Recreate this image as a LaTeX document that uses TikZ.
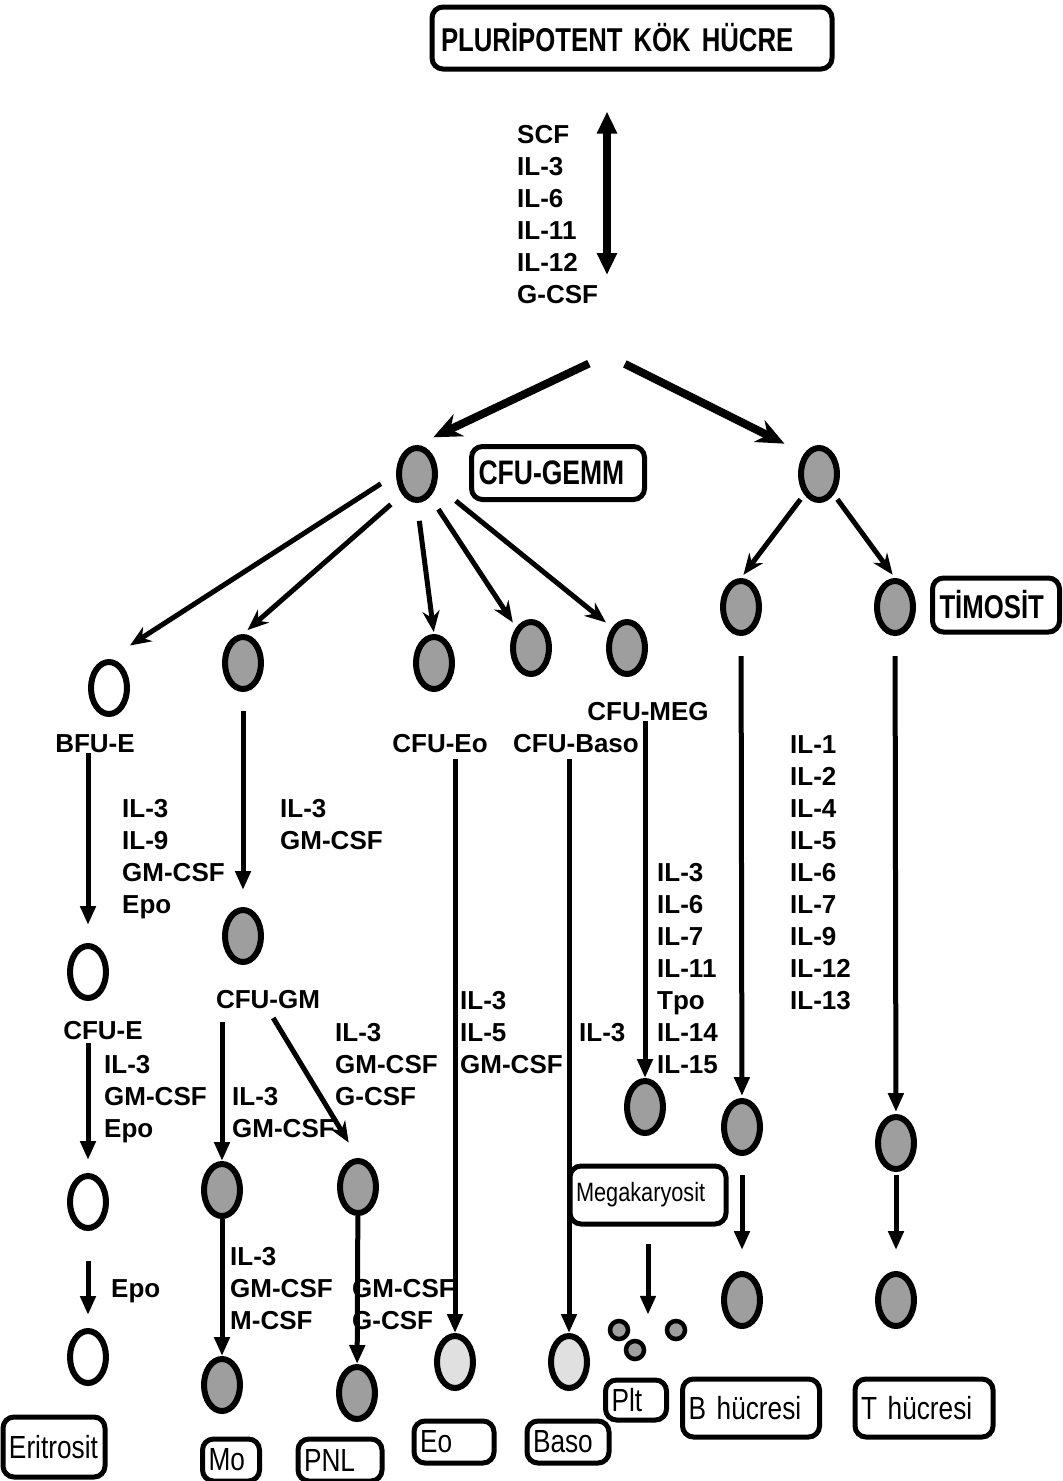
\documentclass[tikz,border=0pt]{standalone}
\usepackage{fontspec}
\setmainfont{Liberation Sans}
\newfontfamily\narrowbf[FakeStretch=0.78]{Liberation Sans}
\newfontfamily\narrowrm[FakeStretch=0.82]{Liberation Sans}
\usetikzlibrary{positioning,arrows.meta,shapes.geometric}
\tikzset{
  cell/.style={ellipse, draw, line width=6pt, fill=black!38, minimum width=36pt, minimum height=52pt, inner sep=0pt},
  opencell/.style={cell, fill=white},
  palecell/.style={cell, fill=black!12},
  plt/.style={circle, draw, line width=4.5pt, fill=black!38, minimum size=18pt, inner sep=0pt},
  lbl/.style={font=\bfseries\fontsize{26}{32}\selectfont, inner sep=0pt, align=left},
  namebox/.style={draw, line width=5pt, rounded corners=11pt, inner xsep=6pt, inner ysep=0pt, align=left, font=\narrowrm\fontsize{32}{34}\selectfont},
  bigarr/.style={line width=8pt, -{Stealth[length=28pt, width=24pt]}},
  brarr/.style={line width=5pt, -{Stealth[length=21pt, width=17pt]}},
  vline/.style={line width=5pt, -{Triangle[length=19pt, width=15pt]}},
  dblarr/.style={line width=8pt, {Triangle[length=22pt, width=19pt]}-{Triangle[length=22pt, width=19pt]}},
}
\begin{document}
\begin{tikzpicture}[x=1pt, y=-1pt]
  \useasboundingbox (0,0) rectangle (1063,1481);
  % stem cell and first split
  \node[namebox, inner xsep=9pt, text width=382pt, minimum height=62pt, font=\narrowbf\bfseries\fontsize{33}{36}\selectfont] (title) at (632,38) {PLURİPOTENT KÖK HÜCRE};
  \coordinate (stem) at (607,300);
  \coordinate (split) at (607,355);
  \draw[dblarr, shorten <=40pt, shorten >=25pt] (stem |- title.south) -- (stem);
  \node[lbl, anchor=north west] (topcyt) at (517,125) {SCF\\IL-3\\IL-6\\IL-11\\IL-12\\G-CSF};
  \node[cell] (gemm) at (417,474) {};
  \node[namebox, inner xsep=7pt, text width=159pt, minimum height=53pt, font=\narrowbf\bfseries\fontsize{34}{36}\selectfont] (gemmbox) at (558,473) {CFU-GEMM};
  \node[cell] (lymp) at (819,474) {};
  \draw[bigarr, shorten <=20pt, shorten >=18pt] (split) -- (gemm.north);
  \draw[bigarr, shorten <=20pt, shorten >=22pt] (split) -- (lymp.north west);

  % progenitors
  \node[opencell] (bfue) at (109,688) {};
  \node[cell] (gmp) at (243,663) {};
  \node[cell] (eop) at (434,663) {};
  \node[cell] (basop) at (531,648) {};
  \node[cell] (megp) at (627,648) {};
  \node[cell] (bcp) at (741,607) {};
  \node[cell] (tcp) at (895,607) {};
  \node[namebox, inner xsep=7pt, text width=113pt, minimum height=54pt, font=\narrowbf\bfseries\fontsize{33}{36}\selectfont] (timbox) at (996,605) {TİMOSİT};
  \draw[brarr, shorten <=18pt, shorten >=25pt] (gemm.west) -- (bfue.north);
  \draw[brarr, shorten <=15pt, shorten >=6pt] (gemm.south west) -- (gmp.north);
  \draw[brarr, shorten <=18pt, shorten >=2pt] (gemm.south) -- (eop.north);
  \draw[brarr, shorten <=15pt, shorten >=6pt] (gemm.300) -- (basop.north west);
  \draw[brarr, shorten <=25pt, shorten >=8pt] (gemm.330) -- (megp.north west);
  \draw[brarr, shorten <=6pt, shorten >=4pt] (lymp.south west) -- (bcp.north);
  \draw[brarr, shorten <=6pt, shorten >=4pt] (lymp.south east) -- (tcp.north);

  \node[lbl] (bfuelbl) at (95,744) {BFU-E};
  \node[lbl] (eolbl) at (440,744) {CFU-Eo};
  \node[lbl] (basolbl) at (576,744) {CFU-Baso};
  \node[lbl] (meglbl) at (648,712) {CFU-MEG};
  \node[lbl, anchor=north west] (bfucyt) at (122,799) {IL-3\\IL-9\\GM-CSF\\Epo};
  \node[lbl, anchor=north west] (gmpcyt) at (280,799) {IL-3\\GM-CSF};
  \node[lbl, anchor=north west] (lymcyt) at (790,735) {IL-1\\IL-2\\IL-4\\IL-5\\IL-6\\IL-7\\IL-9\\IL-12\\IL-13};
  \node[lbl, anchor=north west] (megcyt) at (657,863) {IL-3\\IL-6\\IL-7\\IL-11\\Tpo\\IL-14\\IL-15};
  \node[lbl, anchor=north west] (eocyt) at (460,991) {IL-3\\IL-5\\GM-CSF};
  \node[lbl, anchor=north west] (basocyt) at (579,1023) {IL-3};

  % CFU-GM and CFU-E
  \node[cell] (gm) at (243,936) {};
  \node[lbl] (gmlbl) at (268,1000) {CFU-GM};
  \node[opencell] (cfue) at (88,972) {};
  \node[lbl] (cfuelbl) at (103,1031) {CFU-E};
  \draw[vline, shorten >=18pt] (bfuelbl.south -| cfue) -- (cfue.north);
  \draw[vline, shorten <=19pt, shorten >=17pt] (gmp) -- (gm);
  \node[lbl, anchor=north west] (cfuecyt) at (104,1055) {IL-3\\GM-CSF\\Epo};
  \node[lbl, anchor=north west] (monocyt) at (232,1087) {IL-3\\GM-CSF};
  \node[lbl, anchor=north west] (pnlcyt) at (335,1023) {IL-3\\GM-CSF\\G-CSF};

  % mature cells
  \node[opencell] (ery1) at (88,1202) {};
  \node[opencell] (ery2) at (88,1357) {};
  \node[cell] (mono1) at (222,1190) {};
  \node[cell] (mono2) at (222,1385) {};
  \node[cell] (pnl1) at (358,1187) {};
  \node[cell] (pnl2) at (357,1393) {};
  \node[palecell] (eo) at (455,1362) {};
  \node[palecell] (baso) at (569,1362) {};
  \node[cell] (mega) at (645,1107) {};
  \node[cell] (b1) at (742,1127) {};
  \node[cell] (b2) at (742,1300) {};
  \node[cell] (t1) at (896,1143) {};
  \node[cell] (t2) at (896,1300) {};
  \node[plt] (plt1) at (619,1330) {};
  \node[plt] (plt2) at (635,1350) {};
  \node[plt] (plt3) at (676,1330) {};
  \node[lbl, anchor=north west] (eryepo) at (111,1279) {Epo};
  \node[lbl, anchor=north west] (mono2cyt) at (230,1247) {IL-3\\GM-CSF\\M-CSF};
  \node[lbl, anchor=north west] (pnl2cyt) at (352,1279) {GM-CSF\\G-CSF};

  \draw[vline, shorten <=3pt, shorten >=13pt] (cfuelbl.south -| ery1) -- (ery1.north);
  \draw[vline, shorten <=30pt, shorten >=13pt] (ery1) -- (ery2);
  \draw[vline, shorten <=13pt] (gmlbl.south -| mono1) -- (mono1.north);
  \draw[brarr, shorten <=10pt, shorten >=18pt] (gmlbl.south) -- (pnl1.north);
  \draw[vline] (mono1) -- (mono2);
  \draw[vline] (pnl1) -- (pnl2);
  \draw[vline, shorten <=6pt] (eolbl.south -| eo) -- (eo.north);
  \draw[vline, shorten <=6pt] (basolbl.south -| baso) -- (baso.north);
  \draw[vline] (meglbl.south -| mega) -- (mega.north);
  \draw[vline, shorten <=20pt, shorten >=2pt] (bcp) -- (b1);
  \draw[vline, shorten <=19pt, shorten >=21pt] (b1) -- (b2);
  \draw[vline, shorten <=20pt, shorten >=2pt] (tcp) -- (t1);
  \draw[vline, shorten <=3pt, shorten >=21pt] (t1) -- (t2);

  % name boxes
  \node[namebox, text width=144pt, minimum height=58pt, font=\narrowrm\fontsize{26.5}{28}\selectfont] (megbox) at (648,1195) {Megakaryosit};
  \draw[vline, shorten <=17pt, shorten >=4pt] (megbox.south) -- (megbox.south |- plt1.north);
  \node[namebox, text width=90pt, minimum height=60pt] (eribox) at (54,1447) {Eritrosit};
  \node[namebox, text width=45pt, minimum height=42pt] (mobox) at (231,1460) {Mo};
  \node[namebox, text width=72pt, minimum height=42pt] (pnlbox) at (340,1460) {PNL};
  \node[namebox, text width=68pt, minimum height=42pt] (eobox) at (454,1442) {Eo};
  \node[namebox, text width=70pt, minimum height=42pt] (basobox) at (568,1442) {Baso};
  \node[namebox, text width=49pt, minimum height=40pt] (pltbox) at (636,1400) {Plt};
  \node[namebox, text width=125pt, minimum height=58pt] (bbox) at (751,1408) {B hücresi};
  \node[namebox, text width=126pt, minimum height=58pt] (tbox) at (924,1408) {T hücresi};
\end{tikzpicture}
\end{document}
